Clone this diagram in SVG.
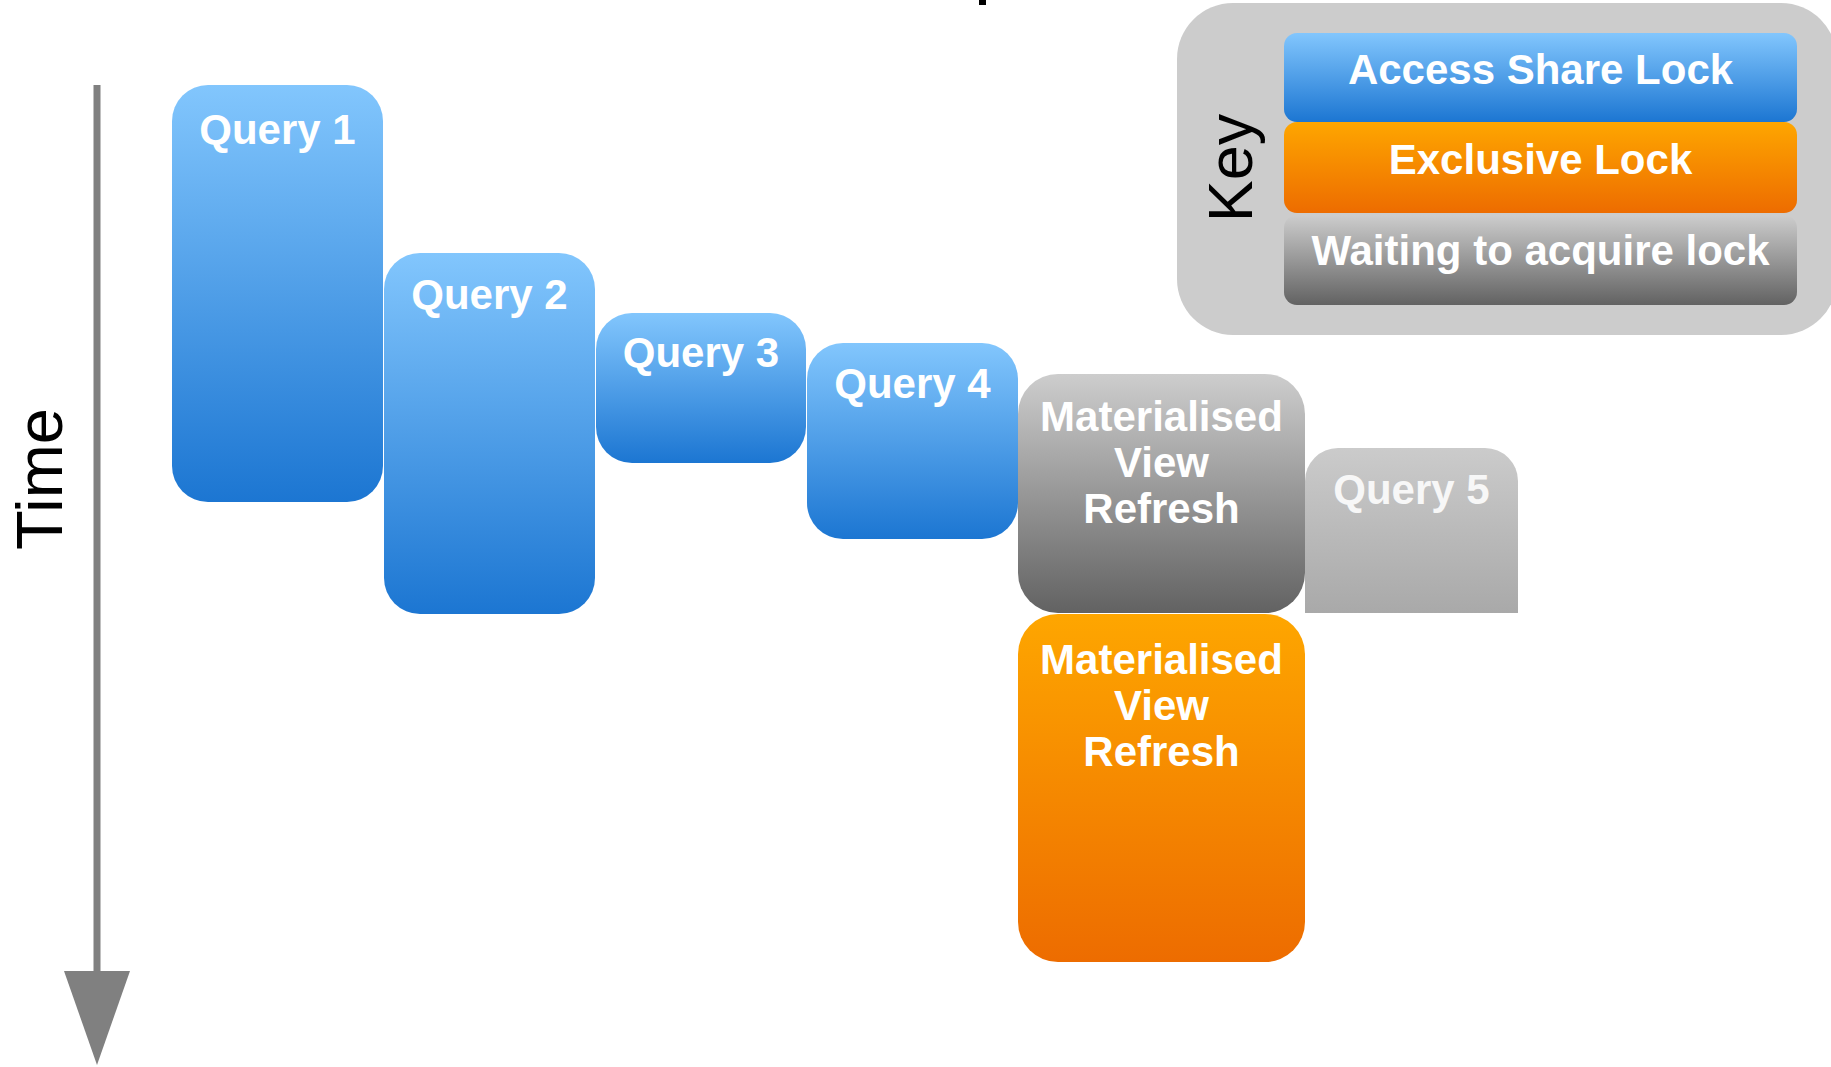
<svg xmlns="http://www.w3.org/2000/svg" width="1831" height="1067" viewBox="0 0 1831 1067">
  <defs>
    <linearGradient id="gBlue" x1="0" y1="0" x2="0" y2="1">
      <stop offset="0" stop-color="#82c6fd"/>
      <stop offset="1" stop-color="#1c76d2"/>
    </linearGradient>
    <linearGradient id="gOrange" x1="0" y1="0" x2="0" y2="1">
      <stop offset="0" stop-color="#fea600"/>
      <stop offset="1" stop-color="#ed6c00"/>
    </linearGradient>
    <linearGradient id="gGrey" x1="0" y1="0" x2="0" y2="1">
      <stop offset="0" stop-color="#cdcdcd"/>
      <stop offset="1" stop-color="#626262"/>
    </linearGradient>
    <linearGradient id="gPale" x1="0" y1="0" x2="0" y2="1">
      <stop offset="0" stop-color="#cbcbcb"/>
      <stop offset="1" stop-color="#a9a9a9"/>
    </linearGradient>
  </defs>
  <style>
    .lbl { font-family: "Liberation Sans", Arial, sans-serif; font-weight: bold; font-size: 42px; fill: #ffffff; text-anchor: middle; }
    .dim { fill: #f7f7f7; }
    .axis { font-family: "Liberation Sans", Arial, sans-serif; font-size: 65px; fill: #000000; text-anchor: middle; }
    .blue { fill: url(#gBlue); }
    .orange { fill: url(#gOrange); }
    .grey { fill: url(#gGrey); }
  </style>

  <rect width="1831" height="1067" fill="#ffffff"/>

  <!-- edge of a heading above the frame -->
  <rect x="979" y="0" width="7" height="5" fill="#000000"/>

  <!-- time axis -->
  <g id="connectors">
    <line x1="97" y1="85" x2="97" y2="971" stroke="#808080" stroke-width="7"/>
    <path d="M64,971 L130,971 L97,1065 Z" fill="#808080"/>
  </g>
  <text class="axis" transform="translate(62,479) rotate(-90)">Time</text>

  <!-- legend -->
  <g id="key">
    <rect x="1177" y="3" width="660" height="332" rx="56" fill="#cccccc"/>
    <text class="axis" transform="translate(1252,168) rotate(-90)" style="font-size:63px">Key</text>
    <g id="key-access-share">
      <rect class="blue" x="1284" y="33" width="513" height="89" rx="13"/>
      <text class="lbl" x="1540.5" y="84">Access Share Lock</text>
    </g>
    <g id="key-exclusive">
      <rect class="orange" x="1284" y="122" width="513" height="91" rx="13"/>
      <text class="lbl" x="1540.5" y="174">Exclusive Lock</text>
    </g>
    <g id="key-waiting">
      <rect class="grey" x="1284" y="215" width="513" height="90" rx="13"/>
      <text class="lbl" x="1540.5" y="265">Waiting to acquire lock</text>
    </g>
  </g>

  <!-- queries holding access share locks -->
  <g id="query1">
    <rect class="blue" x="172" y="85" width="211" height="417" rx="36"/>
    <text class="lbl" x="277.5" y="144">Query 1</text>
  </g>
  <g id="query2">
    <rect class="blue" x="384" y="253" width="211" height="361" rx="36"/>
    <text class="lbl" x="489.5" y="309">Query 2</text>
  </g>
  <g id="query3">
    <rect class="blue" x="596" y="313" width="210" height="150" rx="36"/>
    <text class="lbl" x="701" y="367">Query 3</text>
  </g>
  <g id="query4">
    <rect class="blue" x="807" y="343" width="211" height="196" rx="36"/>
    <text class="lbl" x="912.5" y="398">Query 4</text>
  </g>

  <!-- refresh waiting, then holding the exclusive lock -->
  <g id="refresh-waiting">
    <rect class="grey" x="1018" y="374" width="287" height="239" rx="40"/>
    <text class="lbl" x="1161.5" y="431">Materialised</text>
    <text class="lbl" x="1161.5" y="477">View</text>
    <text class="lbl" x="1161.5" y="523">Refresh</text>
  </g>
  <g id="refresh-exclusive">
    <rect class="orange" x="1018" y="614" width="287" height="348" rx="40"/>
    <text class="lbl" x="1161.5" y="674">Materialised</text>
    <text class="lbl" x="1161.5" y="720">View</text>
    <text class="lbl" x="1161.5" y="766">Refresh</text>
  </g>

  <!-- query blocked behind the refresh -->
  <g id="query5">
    <path d="M1305,613 V481 A33,33 0 0 1 1338,448 H1485 A33,33 0 0 1 1518,481 V613 Z" fill="url(#gPale)"/>
    <text class="lbl dim" x="1411.5" y="504">Query 5</text>
  </g>
</svg>
